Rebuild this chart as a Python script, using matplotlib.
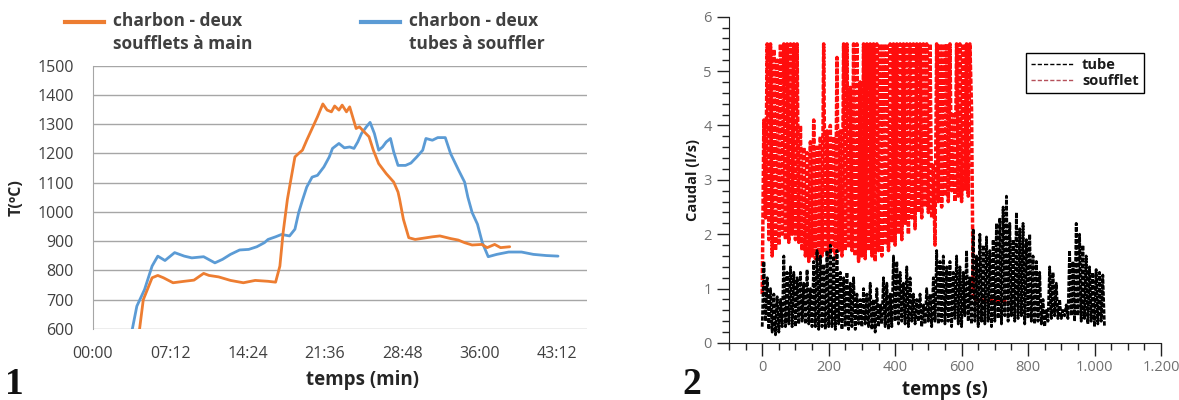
import numpy as np
import matplotlib
matplotlib.use("Agg")
from matplotlib import pyplot as plt
from matplotlib.lines import Line2D

plt.rcParams['font.family'] = ['Open Sans', 'DejaVu Sans']

# ---- chart 1 : temperature (minutes, degC)
orange_t = [4.3, 4.68, 5.5, 6.03, 6.56, 7.45, 8.5, 9.4, 10.3, 10.8, 11.7, 12.8, 14.0, 15.1,
            16.3, 17.0, 17.4, 17.7, 18.1, 18.3, 18.8, 19.15, 19.5, 19.9, 20.4, 20.9, 21.4,
            21.8, 22.2, 22.5, 22.9, 23.2, 23.6, 23.9, 24.5, 24.8, 25.4, 25.7, 26.1, 26.6,
            27.3, 28.0, 28.4, 28.55, 28.9, 29.4, 30.0, 31.6, 32.3, 33.3, 34.0, 34.6, 35.3,
            36.2, 36.7, 37.4, 37.95, 38.8]
orange_T = [590, 700, 775, 783, 775, 758, 763, 767, 790, 783, 778, 766, 758, 766,
            763, 760, 815, 929, 1043, 1085, 1188, 1200, 1211, 1245, 1285, 1325, 1369,
            1348, 1342, 1362, 1348, 1365, 1342, 1359, 1285, 1291, 1268, 1257, 1211, 1165,
            1131, 1102, 1068, 1043, 975, 912, 906, 915, 918, 909, 904, 895, 887,
            889, 878, 889, 878, 881]

blue_t = [3.65, 4.08, 4.8, 5.5, 6.03, 6.7, 7.6, 8.5, 9.2, 10.3, 11.35, 12.06, 12.8, 13.65,
          14.5, 15.25, 15.96, 16.3, 17.0, 17.55, 18.3, 18.8, 19.15, 19.5, 19.9, 20.4, 20.9,
          21.5, 22.0, 22.3, 22.9, 23.4, 23.9, 24.3, 24.65, 25.0, 25.5, 25.8, 26.2, 26.6,
          26.96, 27.3, 27.7, 28.0, 28.4, 29.1, 29.6, 30.15, 30.7, 31.0, 31.6, 32.1, 32.8,
          33.3, 34.05, 34.6, 34.9, 35.3, 35.8, 36.25, 36.8, 37.6, 38.7, 39.9, 41.0, 42.2, 43.3]
blue_T = [598, 678, 735, 815, 849, 834, 861, 849, 843, 847, 826, 838, 855, 870,
          872, 881, 895, 906, 915, 923, 918, 941, 998, 1040, 1085, 1119, 1125,
          1154, 1188, 1217, 1234, 1219, 1222, 1217, 1239, 1268, 1293, 1306, 1268, 1211,
          1222, 1239, 1251, 1205, 1159, 1159, 1167, 1188, 1211, 1251, 1245, 1254, 1254,
          1199, 1142, 1102, 1051, 998, 958, 895, 847, 855, 863, 863, 855, 851, 849]

x_ticks_min = [0, 7.2, 14.4, 21.6, 28.8, 36.0, 43.2]
x_tick_labels = ['00:00', '07:12', '14:24', '21:36', '28:48', '36:00', '43:12']

# ---- chart 2 : flow (seconds, l/s), sampled every 5 s
tube_q = [0.3, 1.5, 0.4, 1.2, 0.25, 1.0, 0.2, 0.9, 0.15, 0.85,
          0.2, 0.8, 0.3, 1.6, 0.3, 1.3, 0.35, 1.4, 0.3, 1.3,
          0.3, 1.2, 0.35, 1.3, 0.4, 1.1, 0.35, 1.35, 0.35, 1.0,
          0.3, 1.5, 0.3, 1.7, 0.25, 1.6, 0.3, 1.45, 0.25, 1.7,
          0.3, 1.8, 0.3, 1.6, 0.25, 1.7, 0.35, 1.3, 0.25, 1.2,
          0.3, 1.3, 0.25, 1.1, 0.3, 1.2, 0.25, 0.9, 0.35, 0.8,
          0.3, 1.0, 0.35, 0.9, 0.3, 1.1, 0.25, 0.8, 0.2, 1.0,
          0.3, 0.7, 0.35, 1.2, 0.3, 1.1, 0.25, 0.9, 0.3, 1.6,
          0.4, 1.5, 0.35, 1.3, 0.4, 1.1, 0.35, 1.4, 0.3, 1.2,
          0.4, 0.9, 0.35, 0.8, 0.4, 0.9, 0.3, 0.7, 0.35, 1.0,
          0.4, 0.9, 0.3, 1.2, 0.4, 1.7, 0.35, 1.5, 0.4, 1.6,
          0.35, 1.4, 0.4, 1.5, 0.3, 1.3, 0.45, 1.6, 0.35, 1.4,
          0.3, 1.3, 0.5, 1.7, 0.4, 1.2, 0.35, 2.1, 0.4, 1.6,
          0.3, 2.0, 0.4, 1.8, 0.35, 1.95, 0.4, 1.7, 0.3, 1.9,
          0.4, 2.2, 0.45, 2.3, 0.35, 2.5, 0.5, 2.7, 0.4, 2.2,
          0.5, 1.9, 0.4, 2.4, 0.45, 2.1, 0.5, 2.2, 0.35, 1.9,
          0.45, 2.0, 0.4, 1.6, 0.35, 1.5, 0.4, 1.3, 0.35, 0.8,
          0.3, 0.6, 0.4, 1.4, 0.45, 1.3, 0.5, 1.1, 0.45, 0.8,
          0.45, 0.6, 0.5, 0.7, 0.45, 1.7, 0.5, 1.5, 0.4, 2.2,
          0.5, 2.0, 0.4, 1.8, 0.45, 1.6, 0.35, 1.4, 0.4, 1.3,
          0.3, 1.35, 0.35, 1.3, 0.4, 1.25, 0.3]
soufflet_q = [0.9, 4.1, 2.3, 5.5, 1.9, 5.5, 1.6, 5.4, 1.7, 5.2,
              1.8, 5.5, 2.0, 5.5, 1.9, 5.5, 1.85, 5.5, 2.0, 5.5,
              1.9, 5.5, 1.85, 4.0, 1.7, 3.6, 1.6, 3.5, 1.5, 3.7,
              1.6, 4.1, 1.55, 3.6, 1.5, 3.8, 1.6, 5.5, 1.7, 3.9,
              1.6, 4.0, 1.7, 3.8, 1.55, 5.25, 1.7, 3.9, 1.6, 5.5,
              1.7, 5.5, 1.75, 4.7, 1.7, 5.5, 1.6, 5.5, 1.5, 4.8,
              1.6, 5.5, 1.55, 5.5, 1.7, 5.5, 1.6, 5.5, 1.5, 5.5,
              1.7, 5.5, 1.6, 5.5, 1.8, 5.5, 1.7, 5.5, 1.85, 5.5,
              1.8, 5.5, 2.0, 5.5, 1.9, 5.5, 2.2, 5.5, 2.0, 5.5,
              2.3, 5.5, 2.1, 5.5, 2.4, 5.5, 2.3, 5.5, 2.5, 5.5,
              2.4, 5.5, 2.3, 3.3, 1.8, 5.5, 2.6, 5.5, 2.5, 5.5,
              2.7, 5.5, 2.6, 5.5, 2.8, 4.2, 2.6, 5.5, 2.7, 5.5,
              2.6, 5.5, 2.8, 5.5, 2.7, 5.5, 4.3]
soufflet_tail_t = [635, 735]
soufflet_tail_q = [0.8, 0.76]

tube_t = np.arange(len(tube_q)) * 5
soufflet_t = np.concatenate([np.arange(len(soufflet_q)) * 5, soufflet_tail_t])
soufflet_all = soufflet_q + soufflet_tail_q

orange = '#ED7D31'
blue = '#5B9BD5'
txt = '#404040'

fig = plt.figure(figsize=(11.79, 4.0), dpi=100)

# ---------------- chart 1
ax1 = fig.add_axes([0.0789, 0.1775, 0.4190, 0.6585])
ax1.plot(blue_t, blue_T, color=blue, lw=2.0, solid_capstyle='round')
ax1.plot(orange_t, orange_T, color=orange, lw=2.0, solid_capstyle='round')
ax1.set_xlim(0, 46)
ax1.set_ylim(600, 1500)
ax1.set_yticks(range(600, 1501, 100))
ax1.set_xticks(x_ticks_min)
ax1.set_xticklabels(x_tick_labels)
ax1.grid(axis='y', color='#a6a6a6', lw=1.0)
ax1.set_axisbelow(True)
for s in ['top', 'right', 'bottom']:
    ax1.spines[s].set_visible(False)
ax1.spines['left'].set_color('#a6a6a6')
ax1.tick_params(length=0, labelsize=11.5, colors=txt)
ax1.tick_params(axis='y', pad=14)
ax1.tick_params(axis='x', pad=12)
ax1.set_xlabel('temps (min)', fontsize=13.5, fontweight='bold', color='#262626', labelpad=5)
ax1.xaxis.set_label_coords(0.545, -0.155)
ax1.set_ylabel('T(ºC)', fontsize=11.5, fontweight='bold', color='#262626', labelpad=9)

# legend on top (handles aligned with the first text line)
for x0, col, lab in [(0.055, orange, 'charbon - deux\nsoufflets à main'),
                     (0.306, blue, 'charbon - deux\ntubes à souffler')]:
    fig.add_artist(Line2D([x0, x0 + 0.033], [0.945, 0.945], color=col, lw=3.0,
                          transform=fig.transFigure))
    fig.text(x0 + 0.041, 0.97, lab, fontsize=12.5, fontweight='bold', color=txt,
             va='top', ha='left', linespacing=1.35)

fig.text(0.004, 0.015, '1', fontsize=27, fontweight='bold',
         family=['Liberation Serif', 'DejaVu Serif'], color='#111111')

# ---------------- chart 2
ax2 = fig.add_axes([0.6183, 0.1425, 0.3664, 0.8158])
ax2.plot(soufflet_t, soufflet_all, color='#ff0d0d', lw=2.5, dashes=(1.5, 0.5))
ax2.plot(tube_t, tube_q, color='black', lw=2.0, dashes=(1.6, 0.55))
ax2.set_xlim(-100, 1200)
ax2.set_ylim(0, 6)
ax2.set_xticks(range(0, 1201, 200))
ax2.set_xticklabels(['0', '200', '400', '600', '800', '1.000', '1.200'])
ax2.set_xticks(range(-100, 1201, 50), minor=True)
ax2.set_yticks(range(0, 7))
ax2.set_yticks(np.arange(0, 6.01, 0.2), minor=True)
for s in ['top', 'right']:
    ax2.spines[s].set_visible(False)
for s in ['left', 'bottom']:
    ax2.spines[s].set_color('#222222')
ax2.tick_params(which='major', length=9, width=1, colors='#222222', labelcolor='#707070',
                labelsize=10.5)
ax2.tick_params(which='minor', length=5, width=1, colors='#222222')
ax2.set_xlabel('temps (s)', fontsize=13.5, fontweight='bold', color='#1a1a1a', labelpad=3)
ax2.set_ylabel('Caudal (l/s)', fontsize=10.5, fontweight='bold', color='#1a1a1a', labelpad=2)

handles = [Line2D([], [], color='black', lw=1.0, dashes=(3, 1.5)),
           Line2D([], [], color='#b5505a', lw=1.0, dashes=(3, 1.5))]
leg = ax2.legend(handles, ['tube', 'soufflet'], loc='upper right',
                 bbox_to_anchor=(0.977, 0.910), fancybox=False, framealpha=1,
                 edgecolor='black', handlelength=2.9, handletextpad=0.6,
                 borderpad=0.35, labelspacing=0.1,
                 prop={'weight': 'bold', 'size': 10.5})
leg.get_frame().set_linewidth(1.0)
for t in leg.get_texts():
    t.set_color('#1a1a1a')

fig.text(0.579, 0.015, '2', fontsize=27, fontweight='bold',
         family=['Liberation Serif', 'DejaVu Serif'], color='#111111')

fig.savefig('out.png', dpi=100)
